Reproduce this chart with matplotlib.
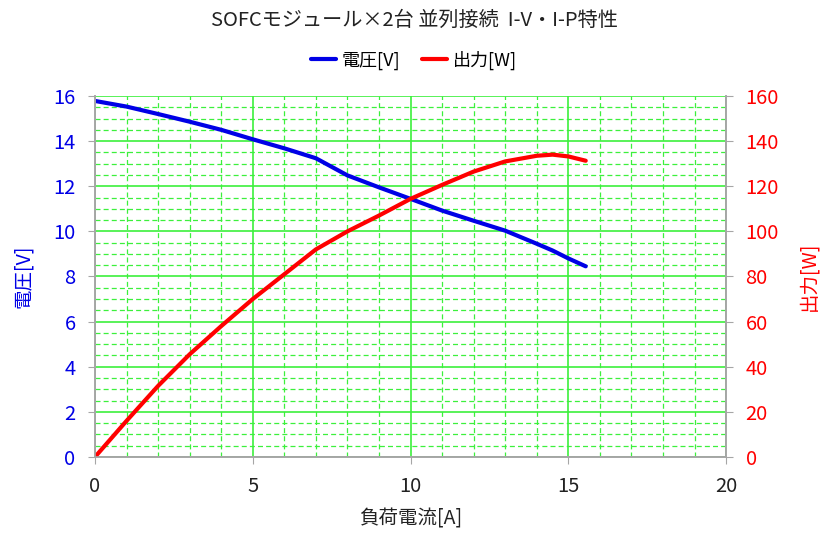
import matplotlib
matplotlib.use("Agg")
import matplotlib.pyplot as plt
from matplotlib.ticker import MultipleLocator

plt.rcParams['font.family'] = ['Noto Sans CJK JP', 'DejaVu Sans']

# Measured I-V / I-P data for two SOFC modules in parallel
current_a = [0, 1, 2, 3, 4, 5, 6, 7, 8, 9, 10, 11, 12, 13, 14, 14.5, 15, 15.55]
voltage_v = [15.78, 15.53, 15.2, 14.86, 14.5, 14.08, 13.68, 13.24, 12.48, 11.95,
             11.44, 10.92, 10.47, 10.03, 9.45, 9.15, 8.8, 8.45]
power_w = [0, 16, 31.5, 45.5, 58, 70, 81, 92, 100, 107,
           114.4, 120.6, 126.5, 131, 133.5, 134, 133.2, 131.3]

title = "SOFCモジュール×2台 並列接続  I-V・I-P特性"
xlabel = "負荷電流[A]"
ylabel_v = "電圧[V]"
ylabel_p = "出力[W]"

blue = "#0000E6"
red = "#FF0000"
grid_green = "#3CF03C"
spine_gray = "#A6A6A6"

fig = plt.figure(figsize=(8.28, 5.38), dpi=100)
ax = fig.add_axes([0.1147, 0.1506, 0.7623, 0.671])
ax2 = ax.twinx()

ax.set_xlim(0, 20)
ax.set_ylim(0, 16)
ax2.set_ylim(0, 160)

ax.xaxis.set_major_locator(MultipleLocator(5))
ax.xaxis.set_minor_locator(MultipleLocator(1))
ax.yaxis.set_major_locator(MultipleLocator(2))
ax.yaxis.set_minor_locator(MultipleLocator(0.5))
ax2.yaxis.set_major_locator(MultipleLocator(20))

ax.grid(which='major', color=grid_green, linewidth=1.2, linestyle='-')
ax.grid(which='minor', color=grid_green, linewidth=0.9, linestyle=(0, (4, 2.5)))
ax.set_axisbelow(True)

lv, = ax.plot(current_a, voltage_v, color=blue, linewidth=3, label=ylabel_v,
              solid_capstyle='round', solid_joinstyle='round')
lp, = ax2.plot(current_a, power_w, color=red, linewidth=3, label=ylabel_p,
               solid_capstyle='round', solid_joinstyle='round')

for a in (ax, ax2):
    a.spines['top'].set_visible(False)
    for s in ('left', 'right', 'bottom'):
        a.spines[s].set_color(spine_gray)
        a.spines[s].set_linewidth(1.2)

ax.tick_params(axis='both', which='minor', length=0)
ax.tick_params(axis='both', which='major', length=5, color=spine_gray,
               labelsize=14.5, pad=9)
ax.tick_params(axis='y', labelcolor=blue)
ax.tick_params(axis='x', labelcolor='#222222')
ax2.tick_params(axis='y', length=5, color=spine_gray, labelsize=14.5,
                labelcolor=red, pad=9)

ax.set_xlabel(xlabel, fontsize=14, color='#222222', labelpad=8)
ax.set_ylabel(ylabel_v, fontsize=14, color=blue, labelpad=14)
ax2.set_ylabel(ylabel_p, fontsize=14, color=red, rotation=90, labelpad=14)

fig.text(0.5, 0.962, title, ha='center', va='center', fontsize=14.5, color='#222222')
fig.legend(handles=[lv, lp], loc='center', bbox_to_anchor=(0.5, 0.888), ncol=2,
           frameon=False, fontsize=13, handlelength=1.4, handletextpad=0.3,
           columnspacing=1.2)

fig.savefig("out.png", dpi=100)
